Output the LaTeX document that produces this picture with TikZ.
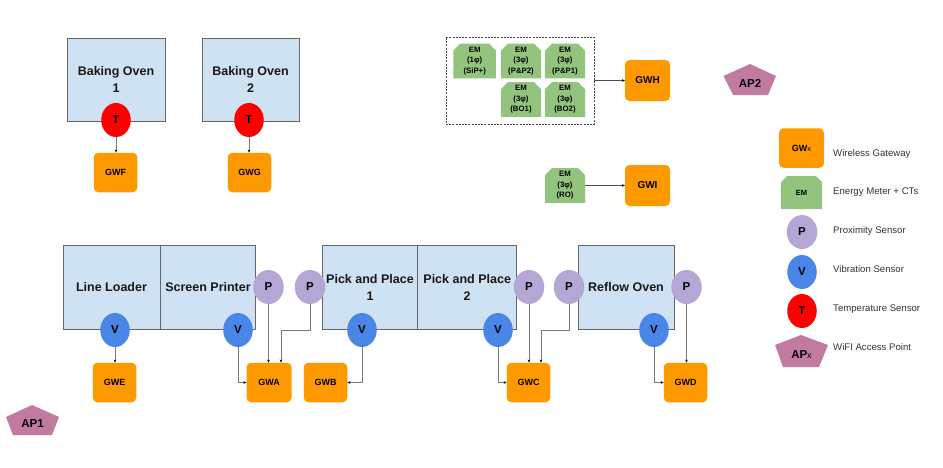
\documentclass[tikz,border=0pt]{standalone}
\usepackage{fontspec}
\setmainfont{Liberation Sans}
\usetikzlibrary{shapes.misc,shapes.geometric,arrows.meta}
\definecolor{machfill}{HTML}{CFE2F3}
\definecolor{machline}{HTML}{666666}
\definecolor{gworange}{HTML}{FF9900}
\definecolor{emgreen}{HTML}{93C47D}
\definecolor{proxpurple}{HTML}{B4A7D6}
\definecolor{vibblue}{HTML}{4A86E8}
\definecolor{tempred}{HTML}{FF0000}
\definecolor{appink}{HTML}{C27BA0}
\definecolor{wire}{HTML}{7A7A7A}
\newcommand{\fsz}[2]{\fontsize{#1}{#2}\selectfont}
\tikzset{
  machine/.style={draw=machline,line width=1pt,fill=machfill,inner sep=0pt,align=center,font=\fsz{12.5}{17}\bfseries,text=black!90},
  gateway/.style={fill=gworange,rounded corners=4.5pt,minimum width=43.5pt,minimum height=39.5pt,inner sep=0pt,font=\fsz{9}{11}\bfseries},
  meter/.style={fill=emgreen,chamfered rectangle,chamfered rectangle corners={north west,north east},chamfered rectangle xsep=3.5pt,chamfered rectangle ysep=3.5pt,minimum width=40pt,minimum height=33pt,inner sep=0pt,align=center,font=\fsz{7.8}{10.5}\bfseries},
  sensor/.style={ellipse,minimum width=29.5pt,minimum height=34pt,inner sep=0pt,font=\fsz{11.5}{13}\bfseries},
  prox/.style={sensor,fill=proxpurple,minimum width=30.5pt},
  vib/.style={sensor,fill=vibblue},
  temp/.style={sensor,fill=tempred},
  wirelink/.style={draw=wire,line width=0.9pt,-{Stealth[length=3pt,width=2.8pt,black]}},
  legendtext/.style={anchor=west,inner sep=0pt,font=\fsz{9.6}{11},text=black!80},
  aplabel/.style={inner sep=0pt,font=\fsz{11.5}{13}\bfseries},
  pent/.style={fill=appink}
}
\begin{document}
\begin{tikzpicture}[x=1pt,y=-1pt]
\useasboundingbox (0,0) rectangle (943,467);
% machines
\node[machine,minimum width=98pt,minimum height=83pt] (bo1) at (116,79.5) {\raisebox{-1pt}{\parbox{90pt}{\centering Baking Oven\\1}}};
\node[machine,minimum width=97pt,minimum height=83pt] (bo2) at (250.5,79.5) {\raisebox{-1pt}{\parbox{90pt}{\centering Baking Oven\\2}}};
\node[machine,minimum width=97pt,minimum height=84pt] (ll) at (111.5,287) {Line Loader};
\node[machine,minimum width=95.5pt,minimum height=84pt] (sp) at (208,287) {Screen Printer};
\node[machine,minimum width=96pt,minimum height=84pt] (pp1) at (370,287) {\raisebox{4pt}{\parbox{90pt}{\centering Pick and Place\\1}}};
\node[machine,minimum width=98.5pt,minimum height=84pt] (pp2) at (467.2,287) {\raisebox{4pt}{\parbox{90pt}{\centering Pick and Place\\2}}};
\node[machine,minimum width=96pt,minimum height=84pt] (ro) at (626,287) {Reflow Oven};
% gateways
\node[gateway] (gwf) at (115.5,172.5) {GWF};
\node[gateway] (gwg) at (249.5,172.5) {GWG};
\node[gateway] (gwe) at (114.5,382.5) {GWE};
\node[gateway,minimum width=45pt] (gwa) at (269,382.5) {GWA};
\node[gateway] (gwb) at (325.5,382.5) {GWB};
\node[gateway] (gwc) at (528.5,382.5) {GWC};
\node[gateway] (gwd) at (685.5,382.5) {GWD};
\node[gateway,minimum width=45pt,minimum height=41pt,font=\fsz{10}{12}\bfseries] (gwh) at (647.5,80.5) {GWH};
\node[gateway,minimum width=45pt,minimum height=41pt,font=\fsz{10}{12}\bfseries] (gwi) at (647.5,185.5) {GWI};
% sensors
\node[temp] (t1) at (116,120) {T};
\node[temp] (t2) at (249,120) {T};
\node[vib] (v1) at (115,330) {V};
\node[vib] (v2) at (238,330) {V};
\node[vib] (v3) at (362,330) {V};
\node[vib] (v4) at (498,330) {V};
\node[vib] (v5) at (654,330) {V};
\node[prox] (p1) at (268.5,287) {P};
\node[prox] (p2) at (310,287) {P};
\node[prox] (p3) at (529,287) {P};
\node[prox] (p4) at (569,287) {P};
\node[prox] (p5) at (686.5,287) {P};
% energy meters
\node[draw=black!70,dash pattern=on 2pt off 1.2pt,line width=0.7pt,minimum width=148pt,minimum height=87pt,inner sep=0pt] (emgroup) at (520,80.5) {};
\node[meter,minimum width=42.5pt] (em1) at (474.7,61) {EM\\(1φ)\\(SiP+)};
\node[meter] (em2) at (521,61) {EM\\(3φ)\\(P\&P2)};
\node[meter] (em3) at (565,61) {EM\\(3φ)\\(P\&P1)};
\node[meter] (em4) at (521,99.5) {EM\\(3φ)\\(BO1)};
\node[meter] (em5) at (565,99.5) {EM\\(3φ)\\(BO2)};
\node[meter,minimum height=34pt] (em6) at (565,185.5) {EM\\(3φ)\\(RO)};
% free corner coordinates
\coordinate (ka) at (281,330);
\coordinate (kc) at (541,330);
% connectors
\draw[wirelink] (t1) -- (t1 |- gwf.north);
\draw[wirelink] (t2) -- (t2 |- gwg.north);
\draw[wirelink] (v1) -- (v1 |- gwe.north);
\draw[wirelink] (v2) |- (gwa);
\draw[wirelink] (p1) -- (p1 |- gwa.north);
\draw[wirelink] (p2) |- (ka) -- (ka |- gwa.north);
\draw[wirelink] (v3) |- (gwb);
\draw[wirelink] (v4) |- (gwc);
\draw[wirelink] (p3) -- (p3 |- gwc.north);
\draw[wirelink] (p4) |- (kc) -- (kc |- gwc.north);
\draw[wirelink] (v5) |- (gwd);
\draw[wirelink] (p5) -- (p5 |- gwd.north);
\draw[wirelink,draw=black!70] (emgroup.east) -- (gwh.west);
\draw[wirelink,draw=black!70] (em6.east) -- (gwi.west);
% access points
\fill[pent] (750,64) -- (776,76) -- (768,95) -- (733,95) -- (723.5,76) -- cycle;
\node[aplabel] (ap2) at (750,83) {AP2};
\fill[pent] (32,405) -- (59,417) -- (52,435) -- (13,435) -- (6,417) -- cycle;
\node[aplabel] (ap1) at (32.5,424) {AP1};
% legend
\node[gateway,minimum width=45pt,minimum height=39.5pt] (lgw) at (801.5,148) {GW{\mdseries\fsz{7.5}{9}x}};
\node[meter,minimum width=41pt,minimum height=33pt,font=\fsz{7.5}{9}\bfseries] (lem) at (801.5,192.5) {EM};
\node[prox] (lp) at (802,232) {P};
\node[vib] (lv) at (802,272) {V};
\node[temp] (lt) at (802,311) {T};
\fill[pent] (801,335) -- (828,345) -- (819,367) -- (783,367) -- (775,345) -- cycle;
\node[aplabel] (lap) at (801.5,355) {AP{\mdseries\fsz{9}{11}x}};
\node[legendtext] (t1l) at (833,154) {Wireless Gateway};
\node[legendtext] (t2l) at (833,192.5) {Energy Meter + CTs};
\node[legendtext] (t3l) at (833,231) {Proximity Sensor};
\node[legendtext] (t4l) at (833,269.5) {Vibration Sensor};
\node[legendtext] (t5l) at (833,309) {Temperature Sensor};
\node[legendtext] (t6l) at (833,347) {WiFI Access Point};
\end{tikzpicture}
\end{document}
